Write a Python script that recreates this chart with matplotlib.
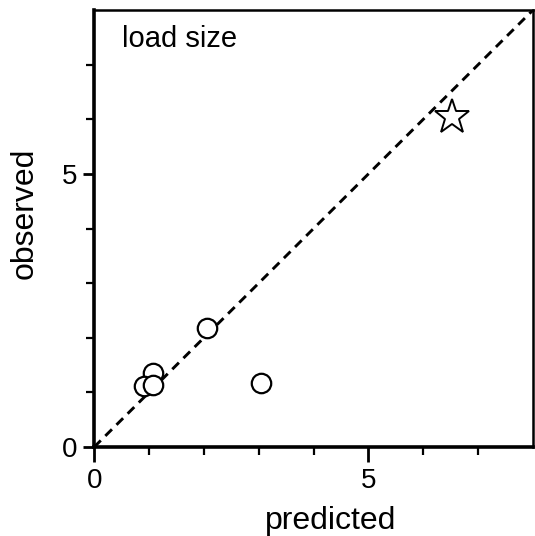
import matplotlib
matplotlib.use("Agg")
import matplotlib.pyplot as plt
import numpy as np

plt.rcParams['font.family'] = ['Liberation Sans', 'DejaVu Sans']

# observed vs predicted load size
pred_circles = [2.06, 1.08, 0.91, 1.08, 3.05]
obs_circles = [2.18, 1.36, 1.12, 1.14, 1.17]
pred_star = [6.53]
obs_star = [6.04]
lim = 8

fig = plt.figure(figsize=(5.35, 5.36), dpi=100)
ax = fig.add_axes([0.176, 0.166, 0.82, 0.815])

ax.plot([0, lim], [0, lim], linestyle=(0, (3.2, 2.2)), color='black', lw=2.1, zorder=1)
ax.plot(pred_circles, obs_circles, 'o', ms=14, mfc='white', mec='black', mew=1.6, zorder=2)
ax.plot(pred_star, obs_star, '*', ms=26, mfc='white', mec='black', mew=1.4, zorder=2)

ax.set_xlim(0, lim)
ax.set_ylim(0, lim)
ax.set_xticks([0, 5])
ax.set_yticks([0, 5])
ax.set_xticks(np.arange(0, lim), minor=True)
ax.set_yticks(np.arange(0, lim), minor=True)
ax.tick_params(which='major', direction='out', length=11, width=2, labelsize=20, pad=4)
ax.tick_params(which='minor', direction='out', length=6, width=1.6)
ax.tick_params(axis='y', which='major', length=8, pad=4)

for side in ['left', 'bottom']:
    ax.spines[side].set_linewidth(2.6)
for side in ['top', 'right']:
    ax.spines[side].set_linewidth(1.8)

ax.set_xlabel('predicted', fontsize=23, labelpad=9)
ax.set_ylabel('observed', fontsize=23, labelpad=16)
ax.xaxis.label.set_x(0.54)
ax.yaxis.label.set_y(0.535)
ax.text(0.064, 0.965, 'load size', transform=ax.transAxes, fontsize=21, va='top')

fig.savefig("out.png", dpi=100)
